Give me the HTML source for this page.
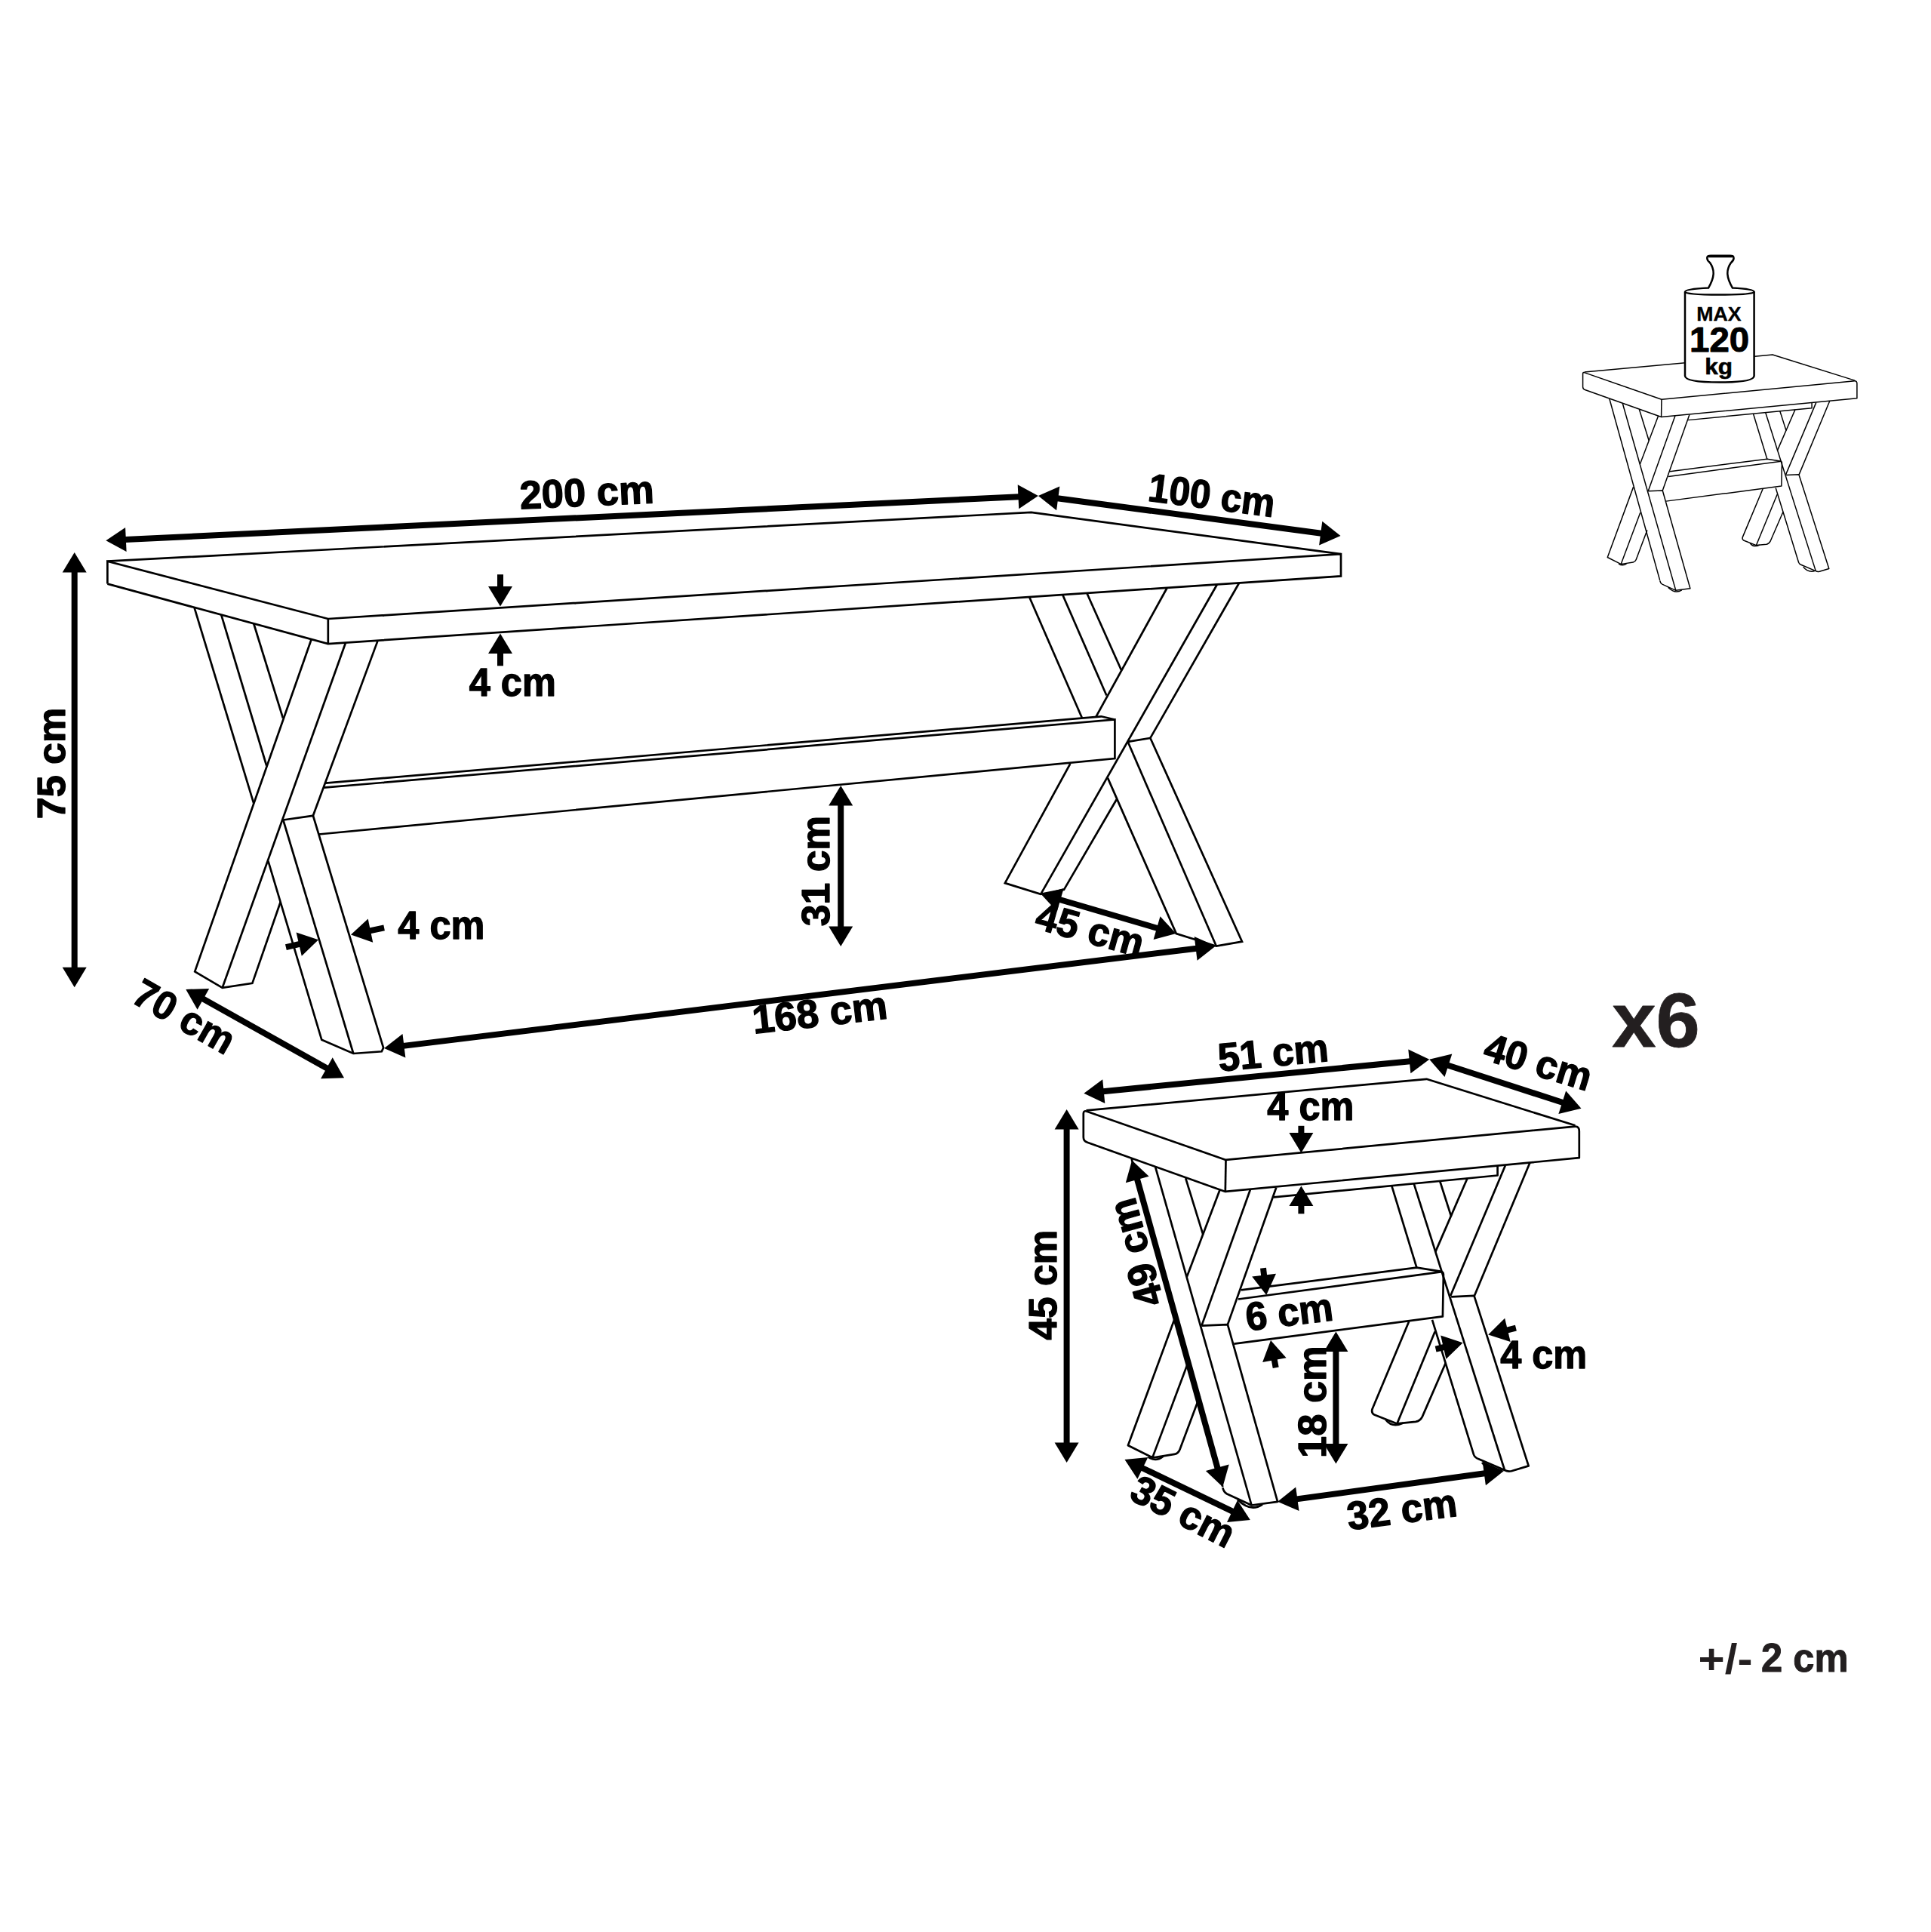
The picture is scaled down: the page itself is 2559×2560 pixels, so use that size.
<!DOCTYPE html>
<html><head><meta charset="utf-8"><title>Dimensions</title><style>html,body{margin:0;padding:0;background:#fff}svg{display:block}</style></head><body>
<svg width="2559" height="2560" viewBox="0 0 2559 2560" font-family="'Liberation Sans', sans-serif" font-size="100" font-weight="bold">
<rect width="2559" height="2560" fill="#fff"/>
<g id="tbl" fill="none" stroke="#000" stroke-width="2.7" stroke-linejoin="miter" stroke-linecap="butt">
<polyline points="142.4,743.7 1366.6,678.9 1777.0,734.2"/>
<polyline points="142.4,773.6 142.4,743.7 434.8,820.0 1777.0,734.2 1777.0,763.4 434.8,853.1 142.4,773.6"/>
<polyline points="434.8,820.0 434.8,853.1"/>
<polyline points="257.4,804.7 336.2,1064.3"/>
<polyline points="293.2,814.7 353.2,1014.5"/>
<polyline points="336.3,826.5 375.0,951.6"/>
<polyline points="412.6,847.3 258.2,1287.3 294.7,1308.8 334.4,1302.9 371.6,1195.5"/>
<polyline points="458.0,851.8 294.7,1308.8"/>
<polyline points="500.6,848.9 414.9,1080.8"/>
<polyline points="375.3,1086.5 414.9,1080.8 508.1,1388.4 505.8,1393.3 468.3,1396.0 426.3,1377.8 355.4,1140.9"/>
<polyline points="375.3,1086.5 468.3,1396.0"/>
<polyline points="431.5,1037.7 1459.4,949.3 1477.4,953.5"/>
<polyline points="429.2,1043.7 1477.4,953.5 1477.4,1005.1 422.3,1105.5"/>
<polyline points="1364.3,791.5 1433.9,951.3"/>
<polyline points="1408.4,788.5 1466.4,921.5"/>
<polyline points="1440.5,786.3 1485.9,887.7"/>
<polyline points="1546.6,779.0 1452.1,950.3"/>
<polyline points="1418.3,1012.0 1331.8,1170.1 1379.2,1184.8 1410.0,1178.9 1479.6,1059.5"/>
<polyline points="1612.9,774.5 1379.2,1184.8"/>
<polyline points="1642.1,772.5 1524.4,977.9"/>
<polyline points="1494.6,982.8 1524.4,977.9 1646.0,1247.7 1611.9,1253.7 1558.8,1237.1 1468.0,1030.9"/>
<polyline points="1494.6,982.8 1611.9,1253.7"/>
</g>
<g id="stool" fill="none" stroke="#000" stroke-width="2.7" stroke-linejoin="round" stroke-linecap="butt">
<path d="M1439.5,1471.3 L1890.5,1429.8 L2087.5,1491.3"/>
<path d="M1435.8,1475.5 Q1435.8,1471 1440.5,1472.8 L1624.5,1536.9 L2087.5,1492.6 Q2092.8,1492.5 2092.8,1499 L2092.8,1534.2 L1623.8,1578.9 L1441,1513.8 Q1435.8,1512 1435.8,1507 Z"/>
<path d="M1624.5,1536.9 L1623.8,1578.9"/>
<path d="M1688,1586.3 L1984.6,1557.5 L1984.6,1545.2"/>
<path d="M1499.6,1535.5 L1620.4,1970.2"/>
<path d="M1531.2,1546.7 L1658.6,1994.5"/>
<path d="M1571.2,1561.2 L1594.3,1635.8"/>
<path d="M1616.7,1576.2 L1572.9,1691.7"/>
<path d="M1556.9,1746.8 L1494.9,1915.2 L1524,1929.8 Q1528,1931.6 1532,1930.8 L1556.5,1926.9 Q1561.5,1926 1563.5,1920.8 L1590,1850"/>
<path d="M1657,1576 L1592.4,1756.6"/>
<path d="M1573.5,1808 L1527.4,1931.1"/>
<path d="M1691.3,1573.5 L1626.9,1755.1"/>
<path d="M1592.4,1756.6 L1626.9,1755.1 L1693.1,1989.8 L1658.6,1994.5 L1626,1979.5 Q1621.5,1977 1620.4,1971.2"/>
<path d="M1521.6,1930.6 Q1531.9,1937.5 1541.5,1929.6"/>
<path d="M1640,1987 Q1657,2004 1673,1993.5"/>
<path d="M1644.6,1709.4 L1877.4,1679.6 L1909,1684.6 Q1913,1685.2 1912.9,1689 L1911.9,1744.4 L1635.3,1780.7"/>
<path d="M1640.9,1721.5 L1911,1685.2"/>
<path d="M1844.3,1571.2 L1877.4,1679.6"/>
<path d="M1873.7,1568.3 L1994,1948"/>
<path d="M1908.2,1565 L1923.1,1611.6"/>
<path d="M1944.6,1561.3 L1902.1,1659.1"/>
<path d="M1994.9,1544.2 L1922.2,1716.9"/>
<path d="M1901.7,1764.3 L1851.4,1886.4"/>
<path d="M2027.5,1540.5 L1953.9,1716.9"/>
<path d="M1923.1,1718.3 L1953.5,1716.8 L2025.7,1942.4 L2003,1949.2 Q1998,1950.3 1994,1948 L1959.5,1933.3 Q1954.5,1931.5 1953,1927.4 L1898,1748.8"/>
<path d="M1867.2,1751 L1818.6,1867 Q1817,1871.8 1821,1874.5 L1851.4,1886.4 L1876,1883.8 Q1882,1883 1884.9,1877.1 L1915.7,1806.3"/>
<path d="M1836.4,1881.2 Q1845,1892.5 1859.5,1885.6"/>
<path d="M1964,1938 Q1974,1951.5 1991,1948.3"/>
</g>
<g id="stool-icon" transform="translate(1303.6,-320.6) scale(0.553)" fill="none" stroke="#000" stroke-width="2.7" stroke-linejoin="round" stroke-linecap="butt">
<path d="M1439.5,1471.3 L1890.5,1429.8 L2087.5,1491.3"/>
<path d="M1435.8,1475.5 Q1435.8,1471 1440.5,1472.8 L1624.5,1536.9 L2087.5,1492.6 Q2092.8,1492.5 2092.8,1499 L2092.8,1534.2 L1623.8,1578.9 L1441,1513.8 Q1435.8,1512 1435.8,1507 Z"/>
<path d="M1624.5,1536.9 L1623.8,1578.9"/>
<path d="M1688,1586.3 L1984.6,1557.5 L1984.6,1545.2"/>
<path d="M1499.6,1535.5 L1620.4,1970.2"/>
<path d="M1531.2,1546.7 L1658.6,1994.5"/>
<path d="M1571.2,1561.2 L1594.3,1635.8"/>
<path d="M1616.7,1576.2 L1572.9,1691.7"/>
<path d="M1556.9,1746.8 L1494.9,1915.2 L1524,1929.8 Q1528,1931.6 1532,1930.8 L1556.5,1926.9 Q1561.5,1926 1563.5,1920.8 L1590,1850"/>
<path d="M1657,1576 L1592.4,1756.6"/>
<path d="M1573.5,1808 L1527.4,1931.1"/>
<path d="M1691.3,1573.5 L1626.9,1755.1"/>
<path d="M1592.4,1756.6 L1626.9,1755.1 L1693.1,1989.8 L1658.6,1994.5 L1626,1979.5 Q1621.5,1977 1620.4,1971.2"/>
<path d="M1521.6,1930.6 Q1531.9,1937.5 1541.5,1929.6"/>
<path d="M1640,1987 Q1657,2004 1673,1993.5"/>
<path d="M1644.6,1709.4 L1877.4,1679.6 L1909,1684.6 Q1913,1685.2 1912.9,1689 L1911.9,1744.4 L1635.3,1780.7"/>
<path d="M1640.9,1721.5 L1911,1685.2"/>
<path d="M1844.3,1571.2 L1877.4,1679.6"/>
<path d="M1873.7,1568.3 L1994,1948"/>
<path d="M1908.2,1565 L1923.1,1611.6"/>
<path d="M1944.6,1561.3 L1902.1,1659.1"/>
<path d="M1994.9,1544.2 L1922.2,1716.9"/>
<path d="M1901.7,1764.3 L1851.4,1886.4"/>
<path d="M2027.5,1540.5 L1953.9,1716.9"/>
<path d="M1923.1,1718.3 L1953.5,1716.8 L2025.7,1942.4 L2003,1949.2 Q1998,1950.3 1994,1948 L1959.5,1933.3 Q1954.5,1931.5 1953,1927.4 L1898,1748.8"/>
<path d="M1867.2,1751 L1818.6,1867 Q1817,1871.8 1821,1874.5 L1851.4,1886.4 L1876,1883.8 Q1882,1883 1884.9,1877.1 L1915.7,1806.3"/>
<path d="M1836.4,1881.2 Q1845,1892.5 1859.5,1885.6"/>
<path d="M1964,1938 Q1974,1951.5 1991,1948.3"/>
</g>
<g fill="#fff" stroke="#000" stroke-width="2.5" stroke-linejoin="round"><path d="M2233,387 L2233,498 Q2233,506.5 2279,506.5 Q2324.6,506.5 2324.6,498 L2324.6,387 Z"/><path d="M2233,387 Q2233,383 2264,381.6 C2272,368 2273,358 2266,348 Q2261.5,344.5 2262.5,340.5 Q2263,338.8 2267,338.8 L2293,338.8 Q2297,338.8 2297.3,340.5 Q2298.5,344.5 2294,348 C2287,358 2288,368 2296,381.6 Q2324.6,383 2324.6,387 Q2324.6,390.5 2279,390.5 Q2233,390.5 2233,387 Z"/></g>
<line x1="2264.5" y1="339.6" x2="2295.5" y2="339.6" stroke="#000" stroke-width="3.4" stroke-linecap="round"/>
<g fill="#000">
<line x1="165.9" y1="715.0" x2="1350.4" y2="658.2" stroke="#000" stroke-width="8.0"/>
<polygon points="1375.9,657.0 1350.2,674.2 1348.7,642.3"/>
<polygon points="140.4,716.2 166.1,699.0 167.6,730.9"/>
<line x1="1401.2" y1="660.3" x2="1751.2" y2="706.7" stroke="#000" stroke-width="8.0"/>
<polygon points="1776.5,710.0 1748.1,722.4 1752.3,690.7"/>
<polygon points="1375.9,657.0 1404.3,644.6 1400.1,676.3"/>
<line x1="98.7" y1="757.6" x2="98.7" y2="1282.8" stroke="#000" stroke-width="8.0"/>
<polygon points="98.7,1308.3 82.7,1281.8 114.7,1281.8"/>
<polygon points="98.7,732.1 114.7,758.6 82.7,758.6"/>
<line x1="1114.2" y1="1066.5" x2="1114.2" y2="1228.5" stroke="#000" stroke-width="8.0"/>
<polygon points="1114.2,1254.0 1098.2,1227.5 1130.2,1227.5"/>
<polygon points="1114.2,1041.0 1130.2,1067.5 1098.2,1067.5"/>
<line x1="1404.3" y1="1192.0" x2="1534.0" y2="1230.0" stroke="#000" stroke-width="8.0"/>
<polygon points="1558.5,1237.1 1528.6,1245.0 1537.5,1214.3"/>
<polygon points="1379.8,1184.9 1409.7,1177.0 1400.8,1207.7"/>
<line x1="268.6" y1="1323.3" x2="433.7" y2="1415.8" stroke="#000" stroke-width="8.0"/>
<polygon points="456.0,1428.2 425.1,1429.2 440.7,1401.3"/>
<polygon points="246.3,1310.9 277.2,1309.9 261.6,1337.8"/>
<line x1="534.4" y1="1385.9" x2="1585.7" y2="1256.7" stroke="#000" stroke-width="8.0"/>
<polygon points="1611.0,1253.6 1586.6,1272.7 1582.7,1241.0"/>
<polygon points="509.1,1389.0 533.5,1369.9 537.4,1401.6"/>
<line x1="1461.8" y1="1446.2" x2="1868.8" y2="1406.2" stroke="#000" stroke-width="8.0"/>
<polygon points="1894.2,1403.7 1869.4,1422.2 1866.3,1390.4"/>
<polygon points="1436.4,1448.7 1461.2,1430.2 1464.3,1462.0"/>
<line x1="1918.5" y1="1411.5" x2="2071.2" y2="1461.0" stroke="#000" stroke-width="8.0"/>
<polygon points="2095.5,1468.8 2065.4,1475.9 2075.2,1445.4"/>
<polygon points="1894.2,1403.7 1924.3,1396.6 1914.5,1427.1"/>
<line x1="1413.6" y1="1495.4" x2="1413.6" y2="1912.5" stroke="#000" stroke-width="8.0"/>
<polygon points="1413.6,1938.0 1397.6,1911.5 1429.6,1911.5"/>
<polygon points="1413.6,1469.9 1429.6,1496.4 1397.6,1496.4"/>
<line x1="1506.9" y1="1562.1" x2="1613.6" y2="1945.6" stroke="#000" stroke-width="8.0"/>
<polygon points="1620.4,1970.2 1597.9,1949.0 1628.7,1940.4"/>
<polygon points="1500.1,1537.5 1522.6,1558.7 1491.8,1567.3"/>
<line x1="1770.4" y1="1789.9" x2="1770.4" y2="1914.0" stroke="#000" stroke-width="8.0"/>
<polygon points="1770.4,1939.5 1754.4,1913.0 1786.4,1913.0"/>
<polygon points="1770.4,1764.4 1786.4,1790.9 1754.4,1790.9"/>
<line x1="1513.5" y1="1945.0" x2="1633.8" y2="2002.9" stroke="#000" stroke-width="8.0"/>
<polygon points="1656.8,2014.0 1626.0,2016.9 1639.9,1988.1"/>
<polygon points="1490.5,1933.9 1521.3,1931.0 1507.4,1959.8"/>
<line x1="1718.4" y1="1986.4" x2="1967.7" y2="1952.3" stroke="#000" stroke-width="8.0"/>
<polygon points="1993.0,1948.9 1968.9,1968.3 1964.6,1936.6"/>
<polygon points="1693.1,1989.8 1717.2,1970.4 1721.5,2002.1"/>
<line x1="663.0" y1="761.2" x2="663.0" y2="778.1" stroke="#000" stroke-width="8.0"/>
<polygon points="663.0,803.6 647.0,777.1 679.0,777.1"/>
<line x1="663.0" y1="882.3" x2="663.0" y2="864.9" stroke="#000" stroke-width="8.0"/>
<polygon points="663.0,839.4 679.0,865.9 647.0,865.9"/>
<line x1="378.9" y1="1255.1" x2="397.1" y2="1250.9" stroke="#000" stroke-width="8.0"/>
<polygon points="422.0,1245.2 399.8,1266.7 392.6,1235.5"/>
<line x1="509.1" y1="1229.3" x2="490.0" y2="1233.3" stroke="#000" stroke-width="8.0"/>
<polygon points="465.0,1238.5 487.7,1217.4 494.2,1248.8"/>
<line x1="1724.4" y1="1491.8" x2="1724.4" y2="1502.1" stroke="#000" stroke-width="8.0"/>
<polygon points="1724.4,1527.6 1708.4,1501.1 1740.4,1501.1"/>
<line x1="1724.4" y1="1608.3" x2="1724.4" y2="1596.9" stroke="#000" stroke-width="8.0"/>
<polygon points="1724.4,1571.4 1740.4,1597.9 1708.4,1597.9"/>
<line x1="1674.0" y1="1680.2" x2="1675.2" y2="1690.6" stroke="#000" stroke-width="8.0"/>
<polygon points="1678.2,1715.9 1659.2,1691.5 1691.0,1687.7"/>
<line x1="1690.7" y1="1812.2" x2="1688.7" y2="1801.2" stroke="#000" stroke-width="8.0"/>
<polygon points="1684.0,1776.1 1704.6,1799.2 1673.1,1805.1"/>
<line x1="1902.6" y1="1787.6" x2="1913.8" y2="1785.0" stroke="#000" stroke-width="8.0"/>
<polygon points="1938.6,1779.2 1916.4,1800.8 1909.2,1769.6"/>
<line x1="2008.9" y1="1759.7" x2="1997.0" y2="1762.6" stroke="#000" stroke-width="8.0"/>
<polygon points="1972.2,1768.6 1994.2,1746.8 2001.7,1777.9"/>
</g>
<text transform="translate(776.9,652.3) rotate(-2.6) scale(0.5256,0.5265)" x="-168.25" y="34.38" fill="#000" stroke="#000" stroke-width="2.47" stroke-linejoin="round" font-weight="bold">200 cm</text>
<text transform="translate(1605.9,656.4) rotate(7.4) scale(0.4970,0.5265)" x="-169.62" y="34.38" fill="#000" stroke="#000" stroke-width="2.54" stroke-linejoin="round" font-weight="bold">100 cm</text>
<text transform="translate(67.4,1011.9) rotate(-90) scale(0.5204,0.5265)" x="-140.88" y="34.38" fill="#000" stroke="#000" stroke-width="2.48" stroke-linejoin="round" font-weight="bold">75 cm</text>
<text transform="translate(678.1,904.3) rotate(0) scale(0.5049,0.5265)" x="-111.62" y="34.38" fill="#000" stroke="#000" stroke-width="2.52" stroke-linejoin="round" font-weight="bold">4 cm</text>
<text transform="translate(583.7,1226.0) rotate(0) scale(0.5049,0.5265)" x="-111.62" y="34.38" fill="#000" stroke="#000" stroke-width="2.52" stroke-linejoin="round" font-weight="bold">4 cm</text>
<text transform="translate(1081.0,1154.9) rotate(-90) scale(0.5166,0.5265)" x="-139.88" y="34.38" fill="#000" stroke="#000" stroke-width="2.49" stroke-linejoin="round" font-weight="bold">31 cm</text>
<text transform="translate(1443.5,1231.3) rotate(15.5) scale(0.5152,0.5265)" x="-139.50" y="34.38" fill="#000" stroke="#000" stroke-width="2.50" stroke-linejoin="round" font-weight="bold">45 cm</text>
<text transform="translate(243.9,1346.6) rotate(29.6) scale(0.5131,0.5265)" x="-140.88" y="34.38" fill="#000" stroke="#000" stroke-width="2.50" stroke-linejoin="round" font-weight="bold">70 cm</text>
<text transform="translate(1086.2,1341.7) rotate(-6.5) scale(0.5301,0.5265)" x="-169.62" y="34.38" fill="#000" stroke="#000" stroke-width="2.46" stroke-linejoin="round" font-weight="bold">168 cm</text>
<text transform="translate(1686.4,1394.8) rotate(-5.4) scale(0.5185,0.5265)" x="-140.38" y="34.38" fill="#000" stroke="#000" stroke-width="2.49" stroke-linejoin="round" font-weight="bold">51 cm</text>
<text transform="translate(2037.4,1406.9) rotate(17) scale(0.5152,0.5265)" x="-139.50" y="34.38" fill="#000" stroke="#000" stroke-width="2.50" stroke-linejoin="round" font-weight="bold">40 cm</text>
<text transform="translate(1735.7,1465.9) rotate(0) scale(0.5049,0.5265)" x="-111.62" y="34.38" fill="#000" stroke="#000" stroke-width="2.52" stroke-linejoin="round" font-weight="bold">4 cm</text>
<text transform="translate(1382.0,1703.8) rotate(-90) scale(0.5152,0.5265)" x="-139.50" y="34.38" fill="#000" stroke="#000" stroke-width="2.50" stroke-linejoin="round" font-weight="bold">45 cm</text>
<text transform="translate(1505.8,1660.9) rotate(-105.5) scale(0.5152,0.5265)" x="-139.50" y="34.38" fill="#000" stroke="#000" stroke-width="2.50" stroke-linejoin="round" font-weight="bold">49 cm</text>
<text transform="translate(1707.8,1738.4) rotate(-7) scale(0.5101,0.5265)" x="-112.75" y="34.38" fill="#000" stroke="#000" stroke-width="2.51" stroke-linejoin="round" font-weight="bold">6 cm</text>
<text transform="translate(1738.4,1857.6) rotate(-90) scale(0.5242,0.5265)" x="-141.88" y="34.38" fill="#000" stroke="#000" stroke-width="2.47" stroke-linejoin="round" font-weight="bold">18 cm</text>
<text transform="translate(2044.5,1794.5) rotate(0) scale(0.5049,0.5265)" x="-111.62" y="34.38" fill="#000" stroke="#000" stroke-width="2.52" stroke-linejoin="round" font-weight="bold">4 cm</text>
<text transform="translate(1567.0,2002.2) rotate(27) scale(0.5166,0.5265)" x="-139.88" y="34.38" fill="#000" stroke="#000" stroke-width="2.49" stroke-linejoin="round" font-weight="bold">35 cm</text>
<text transform="translate(1856.9,2000.3) rotate(-7.4) scale(0.5166,0.5265)" x="-139.88" y="34.38" fill="#000" stroke="#000" stroke-width="2.49" stroke-linejoin="round" font-weight="bold">32 cm</text>
<text transform="translate(2192.9,1352.0) rotate(0) scale(1.0473,1.0211)" x="-54.12" y="34.38" fill="#231f20" stroke="#231f20" stroke-width="0.77" stroke-linejoin="round" font-weight="bold">x6</text>
<text transform="translate(2253.1,2217.2) scale(0.6022,0.5610)" x="-4.25" y="0" fill="#231f20" stroke="#231f20" stroke-width="0.00" stroke-linejoin="round">+/-</text>
<text transform="translate(2335.8,2215.4) scale(0.5068,0.5382)" x="-3.50" y="0" fill="#231f20" stroke="#231f20" stroke-width="1.91" stroke-linejoin="round">2 cm</text>
<text transform="translate(2278.8,415.6) rotate(0) scale(0.2671,0.2604)" x="-114.00" y="34.38" fill="#000" stroke="#000" stroke-width="1.14" stroke-linejoin="round" font-weight="bold">MAX</text>
<text transform="translate(2279.1,449.8) rotate(0) scale(0.4741,0.4567)" x="-84.50" y="34.38" fill="#000" stroke="#000" stroke-width="2.15" stroke-linejoin="round" font-weight="bold">120</text>
<text transform="translate(2277.6,484.9) rotate(0) scale(0.3155,0.3007)" x="-58.50" y="36.25" fill="#000" stroke="#000" stroke-width="1.95" stroke-linejoin="round" font-weight="bold">kg</text>
</svg>
</body></html>
